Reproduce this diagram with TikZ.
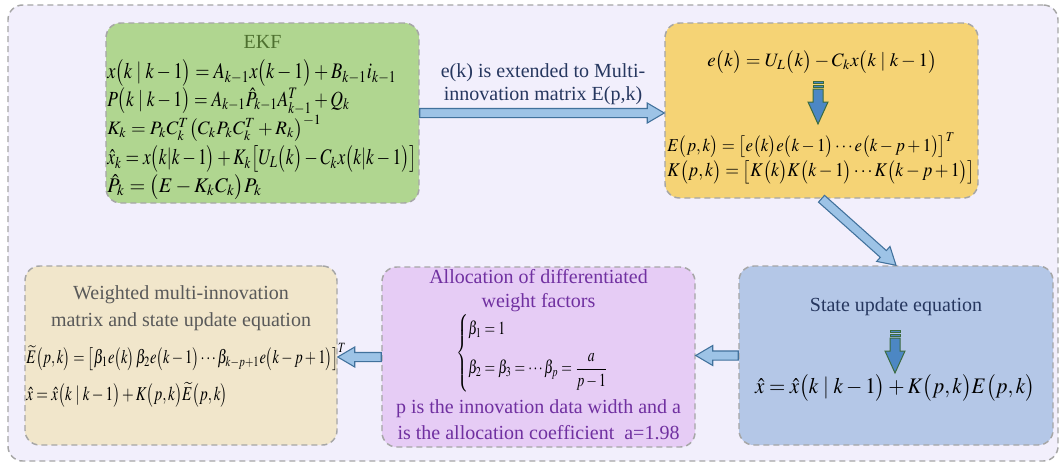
\documentclass[tikz,border=0pt]{standalone}
\usepackage{amsmath}
\usepackage{graphicx}
\usepackage{mathptmx}
\usepackage[no-math]{fontspec}
\setmainfont{Liberation Serif}
\usetikzlibrary{calc}
\definecolor{dashgray}{HTML}{A6A6A6}
\definecolor{framefill}{HTML}{F2EFFC}
\definecolor{ekfgreen}{HTML}{B0D690}
\definecolor{orangebox}{HTML}{F5D375}
\definecolor{bluebox}{HTML}{B4C7E7}
\definecolor{purplebox}{HTML}{E6CCF5}
\definecolor{beigebox}{HTML}{F1E6CB}
\definecolor{arrowfill}{HTML}{9DC3E6}
\definecolor{arrowline}{HTML}{41719C}
\definecolor{strpfill}{HTML}{4C87C4}
\definecolor{strpline}{HTML}{3B6B3F}
\definecolor{ekftitle}{HTML}{4E7030}
\definecolor{navytext}{HTML}{26375F}
\definecolor{purpletext}{HTML}{7030A0}
\definecolor{graytext}{HTML}{595959}
\newcommand{\mybp}[1]{\bigl(#1\bigr)}
\newcommand{\blockarrow}[2]{%
  \coordinate (ba-s) at (#1);
  \coordinate (ba-t) at (#2);
  \coordinate (ba-h) at ($(ba-t)!12.75pt!(ba-s)$);
  \draw[blkarrow] ($(ba-s)!3.4pt!90:(ba-t)$) -- ($(ba-h)!3.4pt!90:(ba-t)$)
    -- ($(ba-h)!7.5pt!90:(ba-t)$) -- (ba-t) -- ($(ba-h)!7.5pt!-90:(ba-t)$)
    -- ($(ba-h)!3.4pt!-90:(ba-t)$) -- ($(ba-s)!3.4pt!-90:(ba-t)$) -- cycle;}
\newcommand{\stripedarrow}[2]{%
  \begin{scope}[shift={(#1,#2)}]
    \draw[strp] (-5,0) rectangle (5,2);
    \draw[strp] (-5,4) rectangle (5,6);
    \draw[strp] (-5,8) -- (5,8) -- (5,21) -- (10,21) -- (0,43) -- (-10,21) -- (-5,21) -- cycle;
  \end{scope}}
\begin{document}
\begin{tikzpicture}[x=0.75pt,y=-0.75pt,
  box/.style={draw=dashgray, line width=1.1pt, dash pattern=on 4.5pt off 3pt,
    rounded corners=11pt, inner sep=0pt},
  txt/.style={inner sep=0pt, font=\fontsize{15}{18.5}\selectfont, align=center},
  eq/.style={inner sep=0pt, anchor=west},
  eqc/.style={inner sep=0pt},
  blkarrow/.style={draw=arrowline, fill=arrowfill, line width=0.8pt, line join=miter},
  strp/.style={draw=strpline, fill=strpfill, line width=0.75pt}]
\useasboundingbox (0,0) rectangle (1064,465);
% frame and boxes
\node[box, fill=framefill, minimum width=787.5pt, minimum height=342pt] (frame) at (533,233) {};
\node[box, fill=ekfgreen, minimum width=234.75pt, minimum height=135pt] (ekf) at (262.5,113) {};
\node[box, fill=orangebox, minimum width=234.75pt, minimum height=131.25pt] (ebox) at (821.5,110.5) {};
\node[box, fill=bluebox, minimum width=235.5pt, minimum height=134.25pt] (sbox) at (896,355.5) {};
\node[box, fill=purplebox, minimum width=234.75pt, minimum height=135pt] (wbox) at (538.5,357) {};
\node[box, fill=beigebox, minimum width=234pt, minimum height=134.25pt] (mbox) at (181,355.5) {};
% EKF
\node[txt, text=ekftitle] (ekft) at (262.5,42) {EKF};
\node[eq] (ekf1) at (107,73) {\resizebox*{217pt}{20pt}{$x\mybp{k\mid k-1}=A_{k-1}x\mybp{k-1}+B_{k-1}i_{k-1}$}};
\node[eq] (ekf2) at (107,101) {\resizebox*{182pt}{20pt}{$P\mybp{k\mid k-1}=A_{k-1}\hat{P}_{k-1}A_{k-1}^{T}+Q_k$}};
\node[eq] (ekf3) at (107,128) {\resizebox*{161pt}{20pt}{$K_k=P_kC_k^T\mybp{C_kP_kC_k^T+R_k}^{-1}$}};
\node[eq] (ekf4) at (107,159) {\resizebox*{232pt}{20pt}{$\hat{x}_k=x\mybp{k|k-1}+K_k\bigl[U_L\mybp{k}-C_kx\mybp{k|k-1}\bigr]$}};
\node[eq] (ekf5) at (107,187) {\resizebox*{116pt}{19pt}{$\hat{P}_k=\mybp{E-K_kC_k}P_k$}};
% e(k) box
\node[eqc] (ek) at (822,62) {\resizebox*{172pt}{17pt}{$e\mybp{k}=U_L\mybp{k}-C_kx\mybp{k\mid k-1}$}};
\stripedarrow{818}{81}
\node[eq] (Epk) at (667,145) {\resizebox*{216pt}{19pt}{$E\mybp{p,k}=\bigl[e\mybp{k}e\mybp{k-1}\cdots e\mybp{k-p+1}\bigr]^T$}};
\node[eq] (Kpk) at (667,172) {\resizebox*{231pt}{17.5pt}{$K\mybp{p,k}=\bigl[K\mybp{k}K\mybp{k-1}\cdots K\mybp{k-p+1}\bigr]$}};
% state update box
\node[txt, text=navytext] (st) at (896,307) {State update equation};
\stripedarrow{895}{330}
\node[eqc] (steq) at (895,388) {\resizebox*{210pt}{20pt}{$\hat{x}=\hat{x}\mybp{k\mid k-1}+K\mybp{p,k}E\mybp{p,k}$}};
% weight box
\node[txt, text=purpletext, font=\fontsize{15}{18}\selectfont] (wt) at (538.5,291) {Allocation of differentiated\\weight factors};
\node[eqc] (wcases) at (539.5,353) {\resizebox*{125pt}{58pt}{$\begin{cases}\beta_1=1\\[6pt]\beta_2=\beta_3=\cdots\beta_p=\dfrac{a}{p-1}\end{cases}$}};
\node[txt, text=purpletext, font=\fontsize{15}{19.5}\selectfont] (wn) at (538.5,420) {p is the innovation data width and a\\is the allocation coefficient\ \ a=1.98};
% weighted matrix box
\node[txt, text=graytext, font=\fontsize{15}{20}\selectfont] (mt) at (181,308.5) {Weighted multi-innovation\\matrix and state update equation};
\node[eq] (meq1) at (26,357) {\resizebox*{240pt}{20pt}{$\widetilde{E}\mybp{p,k}=\bigl[\beta_1e\mybp{k}\,\beta_2e\mybp{k-1}\cdots\beta_{k-p+1}e\mybp{k-p+1}\bigr]^T$}};
\node[eq] (meq2) at (26,395) {\resizebox*{151pt}{19pt}{$\hat{x}=\hat{x}\mybp{k\mid k-1}+K\mybp{p,k}\widetilde{E}\mybp{p,k}$}};
% connectors
\node[txt, text=navytext, font=\fontsize{15}{17.5}\selectfont] (lab) at (543,84) {e(k) is extended to Multi-\\innovation matrix E(p,k)};
\blockarrow{ekf.east}{ebox.west |- ekf.east}
\blockarrow{ebox.south}{sbox.north}
\blockarrow{sbox.west}{wbox.east |- sbox.west}
\blockarrow{wbox.west}{mbox.east |- wbox.west}
\end{tikzpicture}
\end{document}
